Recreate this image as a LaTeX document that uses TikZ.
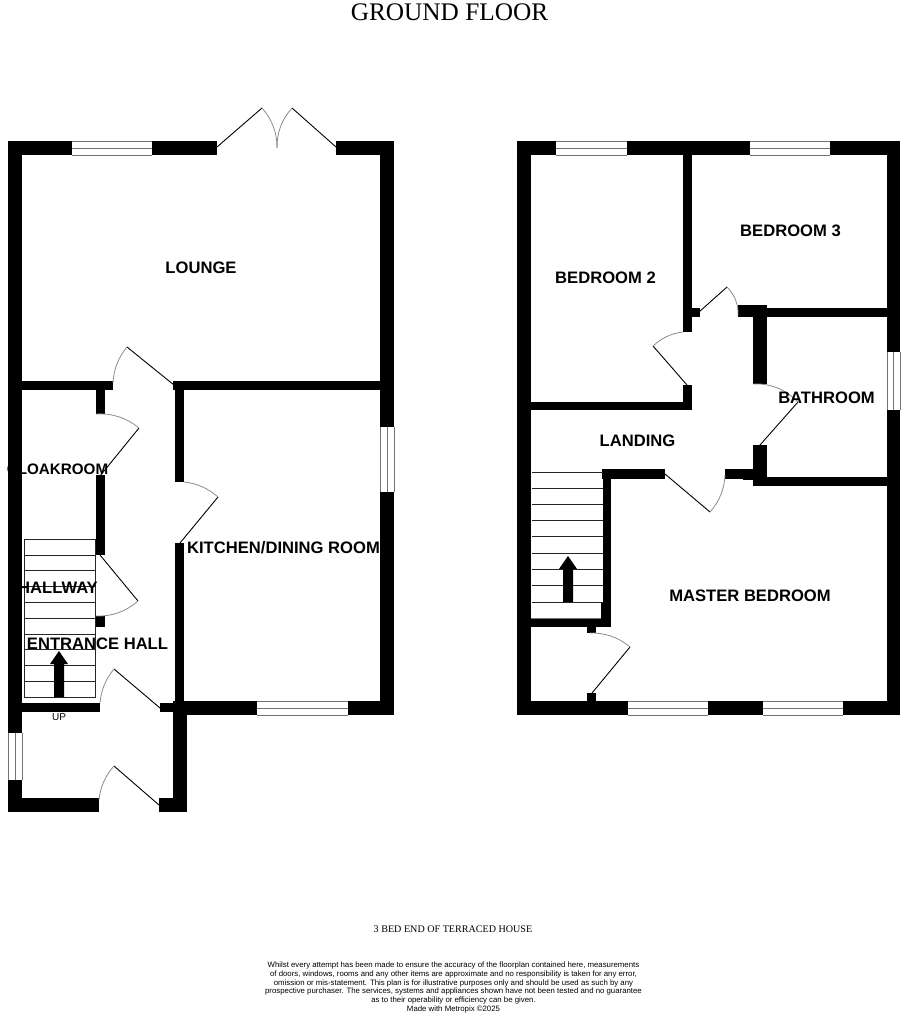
\documentclass[tikz,border=0pt]{standalone}
\usepackage{fontspec}
\setmainfont{Liberation Sans}
\newfontfamily\timesx{Liberation Serif}
\usetikzlibrary{calc}
\tikzset{
  wallpart/.style={fill=black,draw=none},
  leaf/.style={draw=black,line width=0.9pt},
  swing/.style={draw=black!45,line width=0.8pt},
  paneline/.style={draw=black!55,line width=0.8pt},
  stairline/.style={draw=black!85,line width=0.9pt},
  room/.style={font=\fontsize{16.6}{19}\selectfont\bfseries,inner sep=0pt,text=black},
}
\newcommand\Wl[4]{\fill[wallpart] (#1,#2) rectangle (#3,#4);}
\newcommand\HWin[4]{\fill[white] (#1,#3) rectangle (#2,#4);
  \draw[paneline] (#1,#3) -- (#2,#3) (#1,{(#3+#4)/2}) -- (#2,{(#3+#4)/2}) (#1,#4) -- (#2,#4);}
\newcommand\VWin[4]{\fill[white] (#1,#3) rectangle (#2,#4);
  \draw[paneline] (#1,#3) -- (#1,#4) ({(#1+#2)/2},#3) -- ({(#1+#2)/2},#4) (#2,#3) -- (#2,#4);}
\newcommand\Door[6]{%
  \pgfmathsetmacro\dcos{((#3-#1)*(#5-#1)+(#4-#2)*(#6-#2))/(veclen(#3-#1,#4-#2)*veclen(#5-#1,#6-#2))}%
  \pgfmathsetmacro\dfac{1/(1+\dcos)}%
  \coordinate (H) at (#1,#2); \coordinate (A) at (#3,#4); \coordinate (B) at (#5,#6);
  \coordinate (C) at ($(H)+\dfac*(A)+\dfac*(B)-2*\dfac*(H)$);
  \draw[leaf] (H) -- (A);
  \draw[swing] (A) .. controls ($(A)!0.667!(C)$) and ($(B)!0.667!(C)$) .. (B);}
\begin{document}
\begin{tikzpicture}[x=1pt,y=-1pt]
\useasboundingbox (0,0) rectangle (904,1016);
\fill[white] (0,0) rectangle (904,1016);
% --- left unit: walls
\Wl{8}{141}{22}{733} \Wl{8}{780}{22}{812}
\Wl{8}{141}{217}{155} \Wl{336}{141}{394}{155}
\Wl{380}{141}{394}{427} \Wl{380}{492}{394}{715}
\Wl{22}{381}{113}{390} \Wl{173}{381}{380}{390}
\Wl{96}{390}{105}{414} \Wl{96}{475}{105}{555} \Wl{95}{616}{105}{627}
\Wl{175}{385}{184}{482} \Wl{175}{543}{184}{703}
\Wl{22}{703}{100}{712} \Wl{160}{703}{173}{712}
\Wl{173}{701}{394}{715} \Wl{173}{701}{187}{812}
\Wl{8}{798}{99}{812} \Wl{159}{798}{187}{812}
\HWin{72}{152}{141}{155}
\HWin{257}{348}{701}{715}
\VWin{380}{394}{427}{492}
\VWin{8}{22}{733}{780}
% --- left stairs
\draw[stairline] (24,539) rectangle (95,697);
\foreach \yy in {555,570.8,586.6,602.4,618.2,634,649.8,665.6,681.4} \draw[stairline] (24,\yy) -- (95,\yy);
\fill[black] (54,697) -- (54,664) -- (50,664) -- (59,651) -- (68,664) -- (64,664) -- (64,697) -- cycle;
% --- left doors
\Door{174}{385}{127}{347}{113}{383}
\Door{100}{476}{139}{428}{96}{414}
\Door{180}{543}{218}{497}{184}{482}
\Door{100}{555}{138}{601}{96}{616}
\Door{160}{708}{114}{669}{100}{703}
\Door{159}{805}{114}{766}{99}{800}
\Door{217}{147}{262}{108}{277}{148}
\Door{336}{147}{292}{108}{277}{148}
% --- right unit: walls
\Wl{517}{141}{531}{715}
\Wl{517}{141}{900}{155}
\Wl{887}{141}{900}{715}
\Wl{517}{701}{900}{715}
\Wl{683}{155}{692}{332} \Wl{692}{308}{700}{317}
\Wl{683}{385}{692}{410} \Wl{531}{402}{692}{410}
\Wl{738}{305}{767}{317} \Wl{767}{308}{887}{317}
\Wl{753}{305}{767}{384}
\Wl{753}{445}{767}{486} \Wl{756}{477}{887}{486}
\Wl{725}{469}{753}{479} \Wl{743}{469}{756}{480}
\Wl{602}{469}{665}{479} \Wl{603}{469}{611}{627}
\Wl{601}{602}{611}{627} \Wl{531}{618}{611}{627}
\Wl{587}{627}{596}{633} \Wl{587}{693}{596}{701}
\HWin{556}{627}{141}{155}
\HWin{750}{830}{141}{155}
\HWin{628}{708}{701}{715}
\HWin{763}{843}{701}{715}
\VWin{887}{900}{352}{410}
% --- right stairs
\foreach \yy in {472,488.2,504.4,520.6,536.8,553,569.2,585.4,602} \draw[stairline] (532,\yy) -- (603,\yy);
\draw[paneline] (531,618) -- (601,618);
\fill[black] (563,602) -- (563,569) -- (559,569) -- (568,556) -- (577,569) -- (573,569) -- (573,602) -- cycle;
% --- right doors
\Door{699}{312}{727}{287}{738}{316}
\Door{687}{385}{653}{346}{683}{332}
\Door{760}{445}{798}{402}{753}{384}
\Door{665}{474}{710}{512}{725}{475}
\Door{592}{693}{630}{647}{590}{633}
% --- labels
\node[font=\timesx\fontsize{25.3}{28}\selectfont,inner sep=0pt] (title) at (449.5,12) {GROUND FLOOR};
\node[room] (lounge) at (201,267.5) {LOUNGE};
\node[room,font=\fontsize{15.2}{19}\selectfont\bfseries] (cloak) at (57.5,469.5) {CLOAKROOM};
\node[room] (hallway) at (58,588) {HALLWAY};
\node[room] (entrance) at (97.5,643.5) {ENTRANCE HALL};
\node[room] (kitchen) at (283.5,547.5) {KITCHEN/DINING ROOM};
\node[room] (bed2) at (605.5,278) {BEDROOM 2};
\node[room] (bed3) at (790.5,231) {BEDROOM 3};
\node[room] (bath) at (826.5,398) {BATHROOM};
\node[room] (landing) at (637.5,441) {LANDING};
\node[room] (master) at (750,595.5) {MASTER BEDROOM};
\node[font=\fontsize{10}{11}\selectfont,inner sep=0pt] (up) at (59,717) {UP};
\node[font=\timesx\fontsize{10.1}{11}\selectfont,inner sep=0pt] (subtitle) at (453,929) {3 BED END OF TERRACED HOUSE};
\node[font=\fontsize{7.81}{8.7}\selectfont,align=center,inner sep=0pt,anchor=north] (note) at (453.5,962) {Whilst every attempt has been made to ensure the accuracy of the floorplan contained here, measurements\\
of doors, windows, rooms and any other items are approximate and no responsibility is taken for any error,\\
omission or mis-statement. This plan is for illustrative purposes only and should be used as such by any\\
prospective purchaser. The services, systems and appliances shown have not been tested and no guarantee\\
as to their operability or efficiency can be given.\\
Made with Metropix ©2025};
\end{tikzpicture}
\end{document}
